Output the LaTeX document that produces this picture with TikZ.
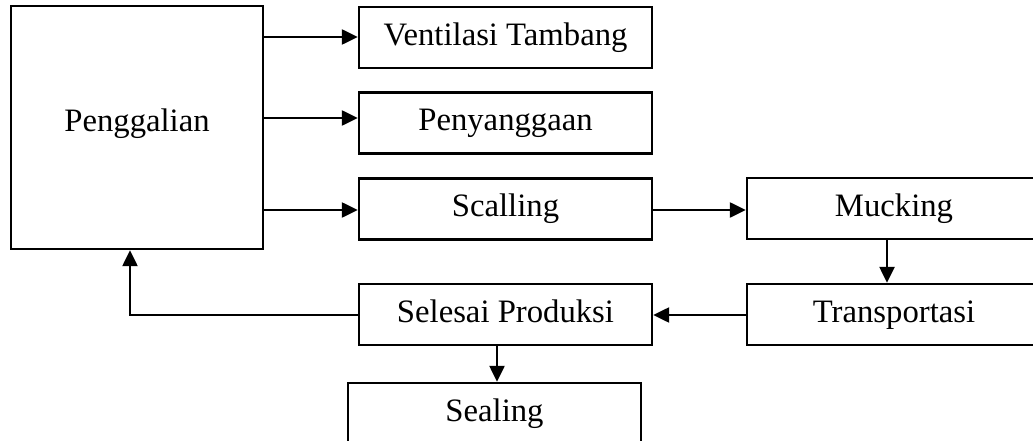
\documentclass[tikz,border=0pt]{standalone}
\usepackage{fontspec}
\setmainfont{Liberation Serif}
\usetikzlibrary{arrows.meta}
\begin{document}
\begin{tikzpicture}[x=1pt,y=-1pt,
  label text/.style={inner sep=0pt, text height=22.3pt, text depth=7.1pt,
    font=\fontsize{32.7}{38}\selectfont},
  box/.style={label text, draw, line width=2.4pt, anchor=center,
    minimum height=61pt},
  arr/.style={line width=2.4pt, -{Triangle[length=16pt,width=15pt]}}]
\useasboundingbox (0,0) rectangle (1033,441);

% process boxes
\node[box, minimum width=252pt, minimum height=243pt] (peng) at (137,127.5) {};
\node[label text] (pengtxt) at (137,124) {Penggalian};
\node[box, minimum width=293pt] (vent) at (505.5,37.5) {Ventilasi Tambang};
\node[box, minimum width=293pt] (peny) at (505.5,123) {Penyanggaan};
\node[box, minimum width=293pt] (scal) at (505.5,209) {Scalling};
\node[box, minimum width=294pt] (muck) at (894,208.5) {Mucking};
\node[box, minimum width=294pt] (trans) at (894,314.5) {Transportasi};
\node[box, minimum width=293pt] (sel) at (505.5,314.5) {Selesai Produksi};
\node[box, minimum width=293pt] (seal) at (494.5,413.5) {Sealing};

% routing points
\coordinate (r1) at (0,37);
\coordinate (r2) at (0,118);
\coordinate (r3) at (0,210);
\coordinate (c1) at (887,0);
\coordinate (c2) at (497,0);
\coordinate (back) at (130,315);

% connectors
\draw[arr] (peng.east |- r1) -- (vent.west |- r1);
\draw[arr] (peng.east |- r2) -- (peny.west |- r2);
\draw[arr] (peng.east |- r3) -- (scal.west |- r3);
\draw[arr] (scal.east |- r3) -- (muck.west |- r3);
\draw[arr] (muck.south -| c1) -- (trans.north -| c1);
\draw[arr] (trans.west |- back) -- (sel.east |- back);
\draw[arr] (sel.west |- back) -- (back) -- (peng.south -| back);
\draw[arr] (sel.south -| c2) -- (seal.north -| c2);
\end{tikzpicture}
\end{document}
